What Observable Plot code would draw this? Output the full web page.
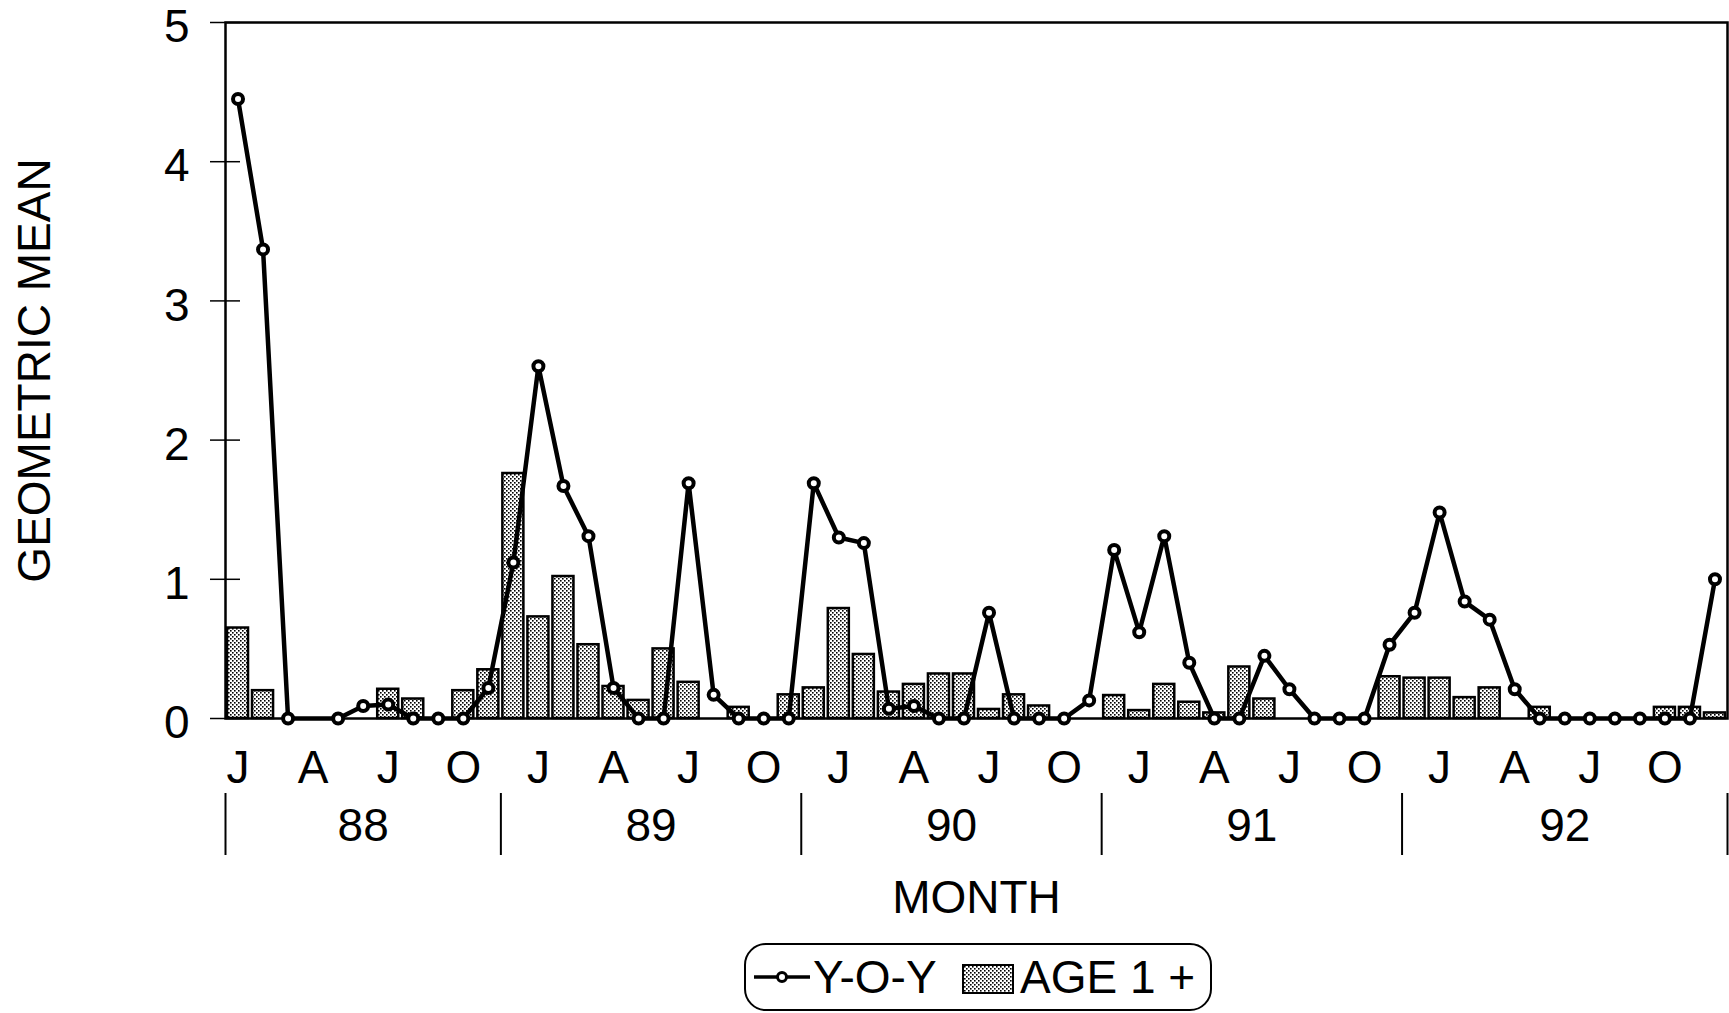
<!DOCTYPE html>
<html>
<head>
<meta charset="utf-8">
<script src="https://cdn.jsdelivr.net/npm/d3@7"></script>
<script src="https://cdn.jsdelivr.net/npm/@observablehq/plot@0.6"></script>
<style>
  html, body { margin: 0; padding: 0; background: #fff; }
  body { font-family: "Liberation Sans", Arial, Helvetica, sans-serif; color: #000; }
  #wrap { position: relative; width: 1729px; height: 1013px; overflow: hidden; }
  #legend {
    position: absolute; left: 744px; top: 943px; width: 464px; height: 64px;
    border: 2px solid #000; border-radius: 22px;
    font-size: 46px; line-height: 1;
  }
  #legend > * { position: absolute; }
  #legend .lbl { white-space: pre; top: 50%; transform: translateY(-50%); }
</style>
</head>
<body>
<div id="wrap">
  <div id="chart"></div>
  <div id="legend">
    <svg width="58" height="20" style="left:7px; top:22px">
      <line x1="1" y1="10" x2="57" y2="10" stroke="#000" stroke-width="3.5"></line>
      <circle cx="29" cy="10" r="4.5" fill="#fff" stroke="#000" stroke-width="3"></circle>
    </svg>
    <span class="lbl" style="left:67px">Y-O-Y</span>
    <svg width="52" height="30" style="left:216px; top:19px">
      <defs>
        <pattern id="stippleLegend" width="4" height="4" patternUnits="userSpaceOnUse">
          <rect width="4" height="4" fill="#fff"></rect>
          <rect x="0" y="0" width="1.6" height="1.6" fill="#000"></rect>
          <rect x="2" y="2" width="1.6" height="1.6" fill="#000"></rect>
        </pattern>
      </defs>
      <rect x="1" y="1" width="50" height="28" fill="url(#stippleLegend)" stroke="#000" stroke-width="2"></rect>
    </svg>
    <span class="lbl" style="left:274px">AGE 1 +</span>
  </div>
</div>
<script>
// Monthly survey results, January 1988 through December 1992
const years = ["88", "89", "90", "91", "92"];
// first month index of each year group on the category axis
const yearGroupStart = [0, 11, 23, 35, 47];
const monthCount = 60;
// quarterly tick letters: Jan, Apr, Jul, Oct
const quarterLetters = ["J", "A", "J", "O"];
const yTicks = [0, 1, 2, 3, 4, 5];

// Young-of-the-year geometric mean (null = not sampled)
const yoy = [
  4.45, 3.37, 0, null, 0, 0.09, 0.10, 0, 0, 0, 0.22, 1.12,
  2.53, 1.67, 1.31, 0.22, 0, 0, 1.69, 0.17, 0, 0, 0, 1.69,
  1.30, 1.26, 0.07, 0.09, 0, 0, 0.76, 0, 0, 0, 0.13, 1.21,
  0.62, 1.31, 0.40, 0, 0, 0.45, 0.21, 0, 0, 0, 0.53, 0.76,
  1.48, 0.84, 0.71, 0.21, 0, 0, 0, 0, 0, 0, 0, 1.00
];

// Age 1+ geometric mean (null = none caught)
const age1 = [
  0.65, 0.20, null, null, null, null, 0.21, 0.14, null, 0.20, 0.35, 1.76,
  0.73, 1.02, 0.53, 0.23, 0.13, 0.50, 0.26, null, 0.08, null, 0.17, 0.22,
  0.79, 0.46, 0.19, 0.245, 0.32, 0.32, 0.065, 0.17, 0.09, null, null, 0.165,
  0.057, 0.245, 0.117, 0.04, 0.37, 0.14, null, null, null, null, 0.30, 0.29,
  0.29, 0.15, 0.22, null, 0.08, null, null, null, null, 0.08, 0.08, 0.04
];

const rows = d3.range(monthCount).map(k => ({k, yoy: yoy[k], age1: age1[k]}));
const yoyRows = rows.filter(d => d.yoy != null);
const barRows = rows.filter(d => d.age1 != null);

const quarterTicks = d3.range(0, monthCount, 3);
const groupEdges = [...yearGroupStart.map(s => s - 0.5), monthCount - 0.5];
const groups = years.map((yr, i) => ({yr, mid: (groupEdges[i] + groupEdges[i + 1]) / 2}));

const font = 46;

const chart = Plot.plot({
  width: 1729,
  height: 935,
  marginLeft: 225,
  marginRight: 2,
  marginTop: 22,
  marginBottom: 217,
  style: {fontFamily: '"Liberation Sans", Arial, Helvetica, sans-serif', color: "#000", background: "#fff", overflow: "visible"},
  x: {type: "linear", domain: [-0.5, monthCount - 0.5], axis: null},
  y: {domain: [0, 5], axis: null},
  marks: [
    // Age 1+ bars
    Plot.rectY(barRows, {
      x1: d => d.k - 0.5, x2: d => d.k + 0.5, y: "age1",
      insetLeft: 2, insetRight: 2,
      fill: "url(#stipple)", stroke: "#000", strokeWidth: 2.5
    }),
    // plot frame
    Plot.frame({stroke: "#000", strokeWidth: 2.5}),
    // Young-of-the-year line with open markers
    Plot.line(yoyRows, {x: "k", y: "yoy", stroke: "#000", strokeWidth: 4.5, strokeLinejoin: "round"}),
    Plot.dot(yoyRows, {x: "k", y: "yoy", r: 5, fill: "#fff", stroke: "#000", strokeWidth: 4}),
    // y axis: crossing ticks and labels
    Plot.axisY(yTicks, {tickSize: 30, dx: 15, fill: "none", stroke: "#000", strokeWidth: 1.5, label: null}),
    Plot.axisY(yTicks, {tickSize: 0, tickPadding: 36, dy: 5, tickFormat: "d", fontSize: font, label: null}),
    Plot.text(["GEOMETRIC MEAN"], {frameAnchor: "left", dx: -190, rotate: -90, textAnchor: "middle", lineAnchor: "middle", fontSize: font}),
    // x axis: quarter letters, year groups, title
    Plot.text(quarterTicks, {x: d => d, text: d => quarterLetters[(d % 12) / 3], frameAnchor: "bottom", lineAnchor: "middle", dy: 50, fontSize: font}),
    Plot.axisX(groupEdges, {tickSize: 62, dy: 75, fill: "none", stroke: "#000", strokeWidth: 2, label: null}),
    Plot.text(groups, {x: "mid", text: "yr", frameAnchor: "bottom", lineAnchor: "middle", dy: 108, fontSize: font}),
    Plot.text(["MONTH"], {frameAnchor: "bottom", lineAnchor: "middle", dy: 180, fontSize: font})
  ]
});

// stipple fill used by the bars
const ns = "http://www.w3.org/2000/svg";
const defs = document.createElementNS(ns, "defs");
defs.innerHTML = `<pattern id="stipple" width="4" height="4" patternUnits="userSpaceOnUse">
  <rect width="4" height="4" fill="#fff"></rect>
  <rect x="0" y="0" width="1.6" height="1.6" fill="#000"></rect>
  <rect x="2" y="2" width="1.6" height="1.6" fill="#000"></rect>
</pattern>`;
chart.insertBefore(defs, chart.firstChild);

document.getElementById("chart").appendChild(chart);
</script>
</body>
</html>
